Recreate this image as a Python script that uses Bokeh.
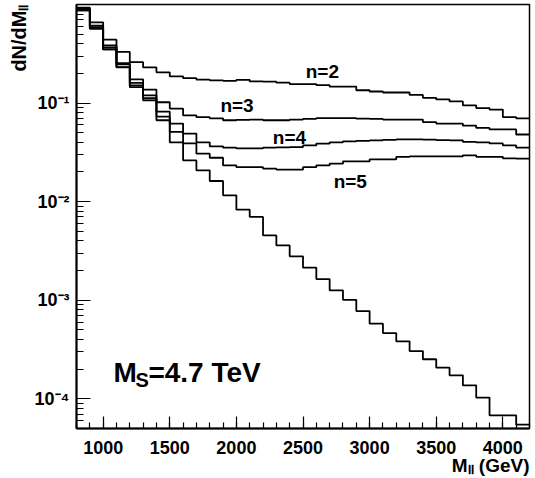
import math
from bokeh.plotting import figure
from bokeh.models import Range1d, Label, Title, SingleIntervalTicker, CustomJSTickFormatter
from bokeh.embed import file_html
from bokeh.resources import INLINE

# ---- data ----
mass_low_edges = list(range(800, 4200, 100))   # 34 bins of 100 GeV
mass_max = 4200

dn_n2 = [0.93, 0.66, 0.44, 0.33, 0.26, 0.23, 0.205, 0.187, 0.179, 0.173,
         0.170, 0.168, 0.172, 0.166, 0.165, 0.161, 0.156, 0.156, 0.152, 0.147,
         0.147, 0.135, 0.131, 0.128, 0.128, 0.121, 0.113, 0.109, 0.104, 0.095,
         0.089, 0.086, 0.072, 0.070]
dn_n3 = [0.91, 0.61, 0.385, 0.254, 0.174, 0.137, 0.102, 0.088, 0.075, 0.072,
         0.070, 0.067, 0.0675, 0.068, 0.067, 0.067, 0.068, 0.069, 0.0705, 0.0705,
         0.0705, 0.0695, 0.069, 0.068, 0.068, 0.068, 0.064, 0.062, 0.062, 0.059,
         0.056, 0.054, 0.054, 0.048]
dn_n4 = [0.89, 0.59, 0.367, 0.247, 0.160, 0.120, 0.082, 0.062, 0.049, 0.040,
         0.0364, 0.0353, 0.0347, 0.0347, 0.0353, 0.0356, 0.0358, 0.0372, 0.0388, 0.040,
         0.0409, 0.0414, 0.0419, 0.0423, 0.0428, 0.0428, 0.0425, 0.0421, 0.0419, 0.0404,
         0.040, 0.039, 0.0372, 0.0353]
dn_n5 = [0.87, 0.57, 0.35, 0.232, 0.151, 0.112, 0.073, 0.051, 0.039, 0.0307,
         0.0279, 0.0233, 0.0224, 0.0224, 0.0216, 0.0211, 0.0211, 0.0224, 0.0233, 0.0243,
         0.0256, 0.0256, 0.0269, 0.0269, 0.0285, 0.0288, 0.0288, 0.0288, 0.0288, 0.0295,
         0.0285, 0.0285, 0.0275, 0.0273]
dn_sm = [0.87, 0.57, 0.35, 0.23, 0.145, 0.1065, 0.067, 0.040, 0.0262, 0.0208,
         0.0162, 0.0116, 0.0083, 0.0070, 0.00455, 0.0036, 0.00279, 0.00214, 0.00164, 0.00126,
         0.00101, 0.000777, 0.000579, 0.000465, 0.000383, 0.000305, 0.000252, 0.000207, 0.000173, 0.000137,
         0.000103, 0.000068, 0.000068, 0.0000547]

curve_labels = ["n=2", "n=3", "n=4", "n=5"]
y_tick_values = [1e-1, 1e-2, 1e-3, 1e-4]
y_tick_labels = ["10\u207b\u00b9", "10\u207b\u00b2", "10\u207b\u00b3", "10\u207b\u2074"]
x_title = "M\u2097\u2097 (GeV)"
y_title = "dN/dM\u2097\u2097"

FONT = "Liberation Sans"

p = figure(width=533, height=476,
           x_range=Range1d(800, 4200), y_range=Range1d(5e-5, 1.0),
           y_axis_type="log", output_backend="svg", toolbar_location=None,
           min_border_left=76, min_border_right=4, min_border_top=4, min_border_bottom=48)
p.xgrid.visible = False
p.ygrid.visible = False
p.outline_line_color = "black"
p.outline_line_width = 1.5
p.background_fill_color = "white"
p.border_fill_color = "white"

xa = p.xaxis[0]
xa.ticker = SingleIntervalTicker(interval=500, num_minor_ticks=5)
xa.axis_line_width = 2
xa.axis_line_color = "black"
xa.major_tick_in = 12
xa.major_tick_out = 0
xa.minor_tick_in = 6
xa.minor_tick_out = 0
xa.major_tick_line_color = "black"
xa.minor_tick_line_color = "black"
xa.major_tick_line_width = 1.2
xa.minor_tick_line_width = 1.2
xa.major_label_text_font = FONT
xa.major_label_text_font_style = "bold"
xa.major_label_text_font_size = "18px"
xa.major_label_text_color = "black"
xa.major_label_standoff = 12

ya = p.yaxis[0]
ya.axis_line_width = 2
ya.axis_line_color = "black"
ya.major_tick_in = 14
ya.major_tick_out = 0
ya.minor_tick_in = 7
ya.minor_tick_out = 0
ya.major_tick_line_color = "black"
ya.minor_tick_line_color = "black"
ya.major_tick_line_width = 1.2
ya.minor_tick_line_width = 1.2
ya.major_label_text_font = FONT
ya.major_label_text_font_style = "bold"
ya.major_label_text_font_size = "18px"
ya.major_label_text_color = "black"
ya.major_label_standoff = 7
ya.formatter = CustomJSTickFormatter(
    args=dict(vals=y_tick_values, labs=y_tick_labels),
    code="""
for (let i = 0; i < vals.length; i++) {
  if (Math.abs(Math.log10(tick) - Math.log10(vals[i])) < 1e-6) return labs[i];
}
return '';
""")

edges = mass_low_edges + [mass_max]
for vals in [dn_n2, dn_n3, dn_n4, dn_n5, dn_sm]:
    p.step(x=edges, y=vals + [vals[-1]], mode="after",
           line_color="black", line_width=1.8)


def lab(text, x, y, size, xo=0, yo=0, align="left", baseline="middle"):
    p.add_layout(Label(x=x, y=y, x_offset=xo, y_offset=yo, text=text,
                       text_font=FONT, text_font_style="bold",
                       text_font_size=f"{size}px", text_color="black",
                       text_align=align, text_baseline=baseline))


# curve labels
label_pos = [(2645, 0.207), (2005, 0.0954), (2398, 0.0444), (2855, 0.01607)]
for t, (lx, ly) in zip(curve_labels, label_pos):
    lab(t, lx, ly, 19, align="center")

# M_S = 4.7 TeV
lab("M", 1077, 1.86e-4, 28)
lab("S", 1077, 1.86e-4, 20, xo=22, yo=-8)
lab("=4.7 TeV", 1077, 1.86e-4, 28, xo=35)

# axis titles (ROOT style: at the end of the axes)
p.add_layout(Title(text=x_title, align="right", standoff=-7,
                   text_font=FONT, text_font_style="bold",
                   text_font_size="19px", text_color="black"), "below")
p.add_layout(Title(text=y_title, align="right", standoff=4,
                   text_font=FONT, text_font_style="bold",
                   text_font_size="20px", text_color="black"), "left")

open("out.html", "w", encoding="utf-8").write(file_html(p, INLINE))
